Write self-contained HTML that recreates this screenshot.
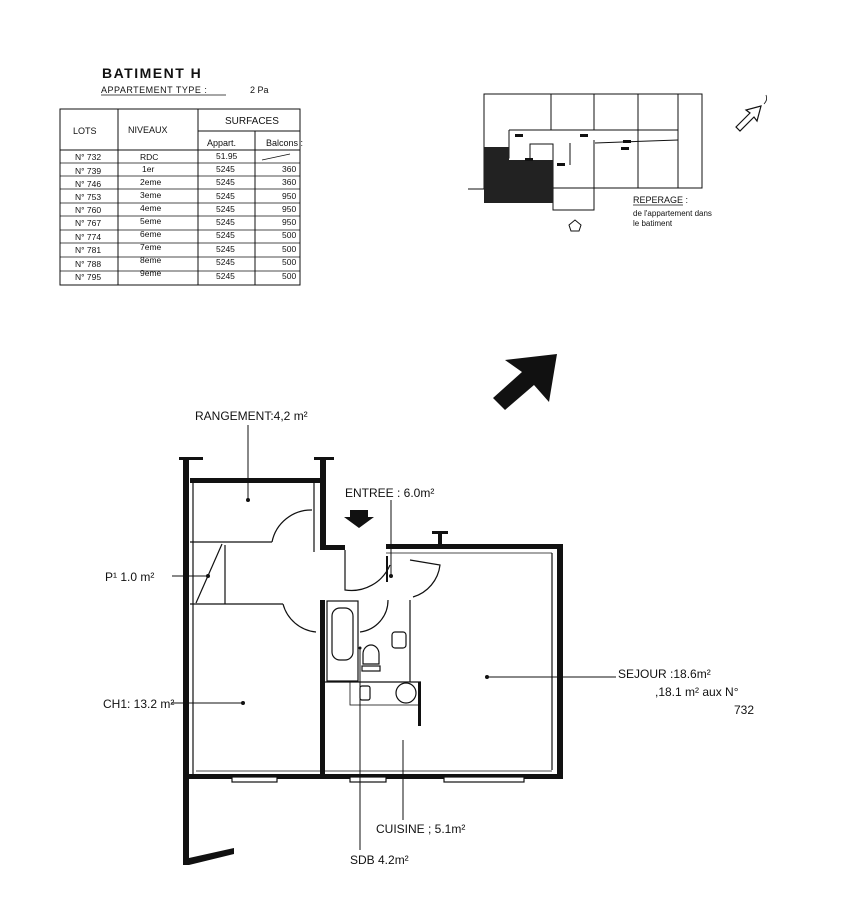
<!DOCTYPE html>
<html><head><meta charset="utf-8"><style>
html,body{margin:0;padding:0;background:#fff;}
svg{display:block}
text{font-family:"Liberation Sans",sans-serif;fill:#111}
</style></head><body>
<svg width="856" height="917" viewBox="0 0 856 917" xmlns="http://www.w3.org/2000/svg">
<!-- Header -->
<text x="102" y="78" font-size="14" font-weight="bold" letter-spacing="1.5">BATIMENT  H</text>
<text x="101" y="93" font-size="9" letter-spacing="0.5">APPARTEMENT TYPE :</text>
<line x1="101" y1="95" x2="226" y2="95" stroke="#111" stroke-width="0.8"/>
<text x="250" y="93" font-size="9">2 Pa</text>
<!-- table -->
<g stroke="#111" stroke-width="1" fill="none">
<rect x="60" y="109" width="240" height="176"/>
<line x1="118" y1="109" x2="118" y2="285"/>
<line x1="198" y1="109" x2="198" y2="285"/>
<line x1="255" y1="131" x2="255" y2="285"/>
<line x1="198" y1="131" x2="300" y2="131"/>
<line x1="60" y1="150" x2="300" y2="150"/>
<g stroke-width="0.7">
<line x1="60" y1="163" x2="300" y2="163"/><line x1="60" y1="176" x2="300" y2="176"/>
<line x1="60" y1="189" x2="300" y2="189"/><line x1="60" y1="203" x2="300" y2="203"/>
<line x1="60" y1="216" x2="300" y2="216"/><line x1="60" y1="230" x2="300" y2="230"/>
<line x1="60" y1="243" x2="300" y2="243"/><line x1="60" y1="257" x2="300" y2="257"/>
<line x1="60" y1="271" x2="300" y2="271"/>
<line x1="262" y1="160" x2="290" y2="154"/>
</g></g>
<g font-size="9">
<text x="73" y="134">LOTS</text><text x="128" y="133">NIVEAUX</text>
<text x="225" y="124" font-size="10">SURFACES</text>
<text x="207" y="146">Appart.</text><text x="266" y="146">Balcons :</text>
<g font-size="8.5">
<text x="75" y="160">N° 732</text><text x="140" y="160">RDC</text><text x="216" y="159">51.95</text>
<text x="75" y="174">N° 739</text><text x="142" y="172">1er</text><text x="216" y="172">5245</text><text x="282" y="172">360</text>
<text x="75" y="187">N° 746</text><text x="140" y="185">2eme</text><text x="216" y="185">5245</text><text x="282" y="185">360</text>
<text x="75" y="200">N° 753</text><text x="140" y="198">3eme</text><text x="216" y="199">5245</text><text x="282" y="199">950</text>
<text x="75" y="213">N° 760</text><text x="140" y="211">4eme</text><text x="216" y="212">5245</text><text x="282" y="212">950</text>
<text x="75" y="226">N° 767</text><text x="140" y="224">5eme</text><text x="216" y="225">5245</text><text x="282" y="225">950</text>
<text x="75" y="240">N° 774</text><text x="140" y="237">6eme</text><text x="216" y="238">5245</text><text x="282" y="238">500</text>
<text x="75" y="253">N° 781</text><text x="140" y="250">7eme</text><text x="216" y="252">5245</text><text x="282" y="252">500</text>
<text x="75" y="267">N° 788</text><text x="140" y="263">8eme</text><text x="216" y="265">5245</text><text x="282" y="265">500</text>
<text x="75" y="280">N° 795</text><text x="140" y="276">9eme</text><text x="216" y="279">5245</text><text x="282" y="279">500</text>
</g></g>
<!-- location plan -->
<g stroke="#111" stroke-width="1" fill="none">
<rect x="484" y="94" width="218" height="94"/>
<line x1="551" y1="94" x2="551" y2="130"/><line x1="594" y1="94" x2="594" y2="130"/>
<line x1="638" y1="94" x2="638" y2="188"/><line x1="678" y1="94" x2="678" y2="188"/>
<polyline points="509,130 678,130"/><polyline points="509,130 509,158 484,158"/>
<line x1="595" y1="143" x2="678" y2="140"/>
<rect x="530" y="144" width="23" height="18"/>
<polyline points="553,160 553,210 594,210 594,188"/>
<line x1="594" y1="140" x2="594" y2="188"/>
<line x1="570" y1="143" x2="570" y2="165"/>
<line x1="468" y1="189" x2="484" y2="189"/>
</g>
<path d="M484 147 L509 147 L509 160 L553 160 L553 203 L484 203 Z" fill="#222"/>
<g fill="#111"><rect x="515" y="134" width="8" height="3"/><rect x="580" y="134" width="8" height="3"/><rect x="623" y="140" width="8" height="3"/><rect x="621" y="147" width="8" height="3"/><rect x="525" y="158" width="8" height="3"/><rect x="557" y="163" width="8" height="3"/></g>
<text x="633" y="203" font-size="9">REPERAGE :</text>
<line x1="633" y1="205" x2="683" y2="205" stroke="#111" stroke-width="0.7"/>
<text x="633" y="216" font-size="8">de l'appartement dans</text>
<text x="633" y="226" font-size="8">le batiment</text>
<polygon points="569,225 575,220 581,225 579,231 571,231" fill="none" stroke="#111"/>
<polygon points="736,127 750,113 746,110 761,106 757,121 754,117 740,131" fill="none" stroke="#111" stroke-width="1.2"/>
<path d="M764 104 Q768 100 766 95" fill="none" stroke="#111" stroke-width="0.8"/>
<!-- big arrow -->
<polygon points="505,360 557,354 549,402 534,385 505,410 493,398 522,372" fill="#111"/>
<!-- plan walls -->
<g fill="#111">
<rect x="183" y="458" width="6" height="407"/>
<rect x="179" y="457" width="24" height="3"/>
<rect x="190" y="478" width="130" height="5"/>
<rect x="320" y="458" width="6" height="92"/>
<rect x="314" y="457" width="20" height="3"/>
<rect x="320" y="545" width="25" height="5"/>
<rect x="386" y="544" width="177" height="5"/>
<rect x="438" y="532" width="4" height="14"/><rect x="432" y="531" width="16" height="3"/>
<rect x="557" y="544" width="6" height="234"/>
<rect x="189" y="774" width="374" height="5"/>
<rect x="320" y="600" width="5" height="178"/>
<polygon points="189,858 234,848 234,854 189,865"/>
<rect x="418" y="682" width="3" height="44"/>
<rect x="386" y="556" width="2" height="26"/>
</g>
<g stroke="#111" fill="none" stroke-width="1.2">
<line x1="193" y1="483" x2="193" y2="774"/>
<line x1="314" y1="483" x2="314" y2="552"/>
<line x1="190" y1="542" x2="272" y2="542"/>
<line x1="190" y1="604" x2="283" y2="604"/>
<line x1="225" y1="545" x2="225" y2="604"/>
<line x1="196" y1="603" x2="222" y2="544"/>
<path d="M272 542 A40 40 0 0 1 312 510"/>
<path d="M283 604 A38 38 0 0 0 316 632"/>
<path d="M345 550 L345 590 A42 42 0 0 0 390 565"/>
<path d="M410 560 L440 565 A38 38 0 0 1 413 597"/>
<path d="M360 632 A32 32 0 0 0 388 600"/>
<rect x="327" y="601" width="31" height="80"/>
<rect x="332" y="608" width="21" height="52" rx="8"/>
<line x1="410" y1="600" x2="410" y2="682"/>
<line x1="325" y1="682" x2="421" y2="682"/>
<rect x="350" y="682" width="70" height="23" stroke-width="0.8"/>
<rect x="360" y="686" width="10" height="14" rx="2"/>
<circle cx="406" cy="693" r="10"/>
<rect x="392" y="632" width="14" height="16" rx="3"/>
<path d="M363 664 L363 654 A8 9 0 0 1 379 654 L379 664 Z"/>
<rect x="362" y="666" width="18" height="5"/>
<line x1="552" y1="553" x2="552" y2="770"/>
<line x1="196" y1="771" x2="552" y2="771" stroke-width="0.8"/>
<line x1="386" y1="553" x2="552" y2="553" stroke-width="0.8"/>
<rect x="232" y="777" width="45" height="5" fill="#fff"/>
<rect x="350" y="777" width="36" height="5" fill="#fff"/>
<rect x="444" y="777" width="80" height="5" fill="#fff"/>
</g>
<!-- labels & leaders -->
<g stroke="#111" stroke-width="1" fill="none">
<line x1="248" y1="425" x2="248" y2="500"/>
<line x1="391" y1="500" x2="391" y2="576"/>
<line x1="172" y1="576" x2="208" y2="576"/>
<line x1="171" y1="703" x2="243" y2="703"/>
<line x1="487" y1="677" x2="616" y2="677"/>
<line x1="403" y1="740" x2="403" y2="820"/>
<line x1="360" y1="648" x2="360" y2="850"/>
</g>
<g fill="#111"><circle cx="248" cy="500" r="2"/><circle cx="391" cy="576" r="2"/><circle cx="208" cy="576" r="2"/><circle cx="243" cy="703" r="2"/><circle cx="487" cy="677" r="2"/><circle cx="360" cy="648" r="1.5"/></g>
<polygon points="350,510 368,510 368,517 374,517 359,528 344,517 350,517" fill="#111"/>
<g font-size="12">
<text x="195" y="420">RANGEMENT:4,2 m²</text>
<text x="345" y="497">ENTREE : 6.0m²</text>
<text x="105" y="581">P¹ 1.0 m²</text>
<text x="103" y="708">CH1: 13.2 m²</text>
<text x="618" y="678">SEJOUR :18.6m²</text>
<text x="655" y="696">,18.1 m² aux N°</text>
<text x="734" y="714">732</text>
<text x="376" y="833">CUISINE ; 5.1m²</text>
<text x="350" y="864">SDB  4.2m²</text>
</g>
</svg>
</body></html>
